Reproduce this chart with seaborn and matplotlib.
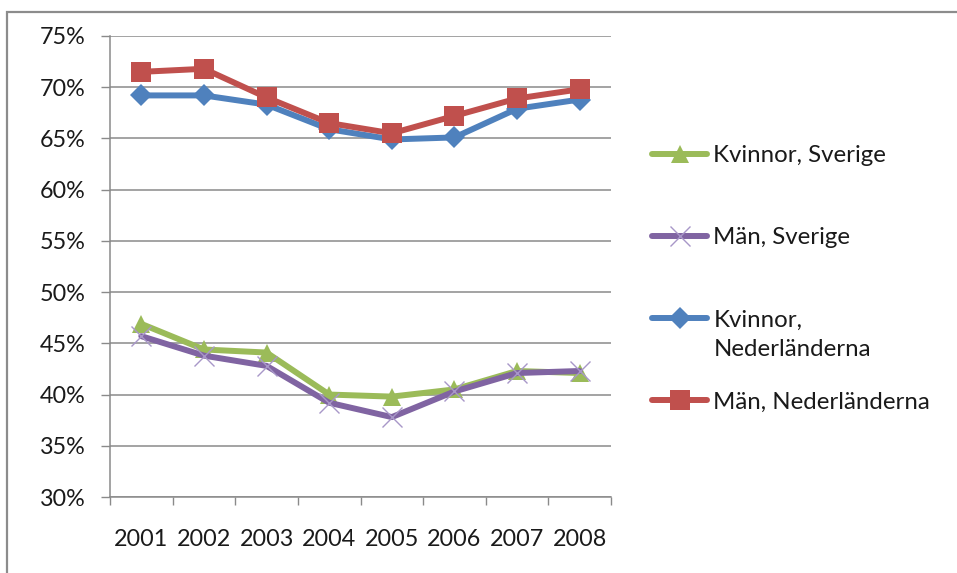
import numpy as np
import pandas as pd
import matplotlib
matplotlib.use("Agg")
import matplotlib.pyplot as plt
from matplotlib.patches import Rectangle
from matplotlib.ticker import FixedLocator, PercentFormatter
import seaborn as sns

# Data (share of population, %)
years = [2001, 2002, 2003, 2004, 2005, 2006, 2007, 2008]
kvinnor_sverige = [46.9, 44.4, 44.1, 40.0, 39.8, 40.5, 42.3, 42.1]
man_sverige = [45.7, 43.8, 42.8, 39.2, 37.8, 40.3, 42.1, 42.3]
kvinnor_nl = [69.2, 69.2, 68.3, 65.9, 64.9, 65.1, 67.9, 68.8]
man_nl = [71.5, 71.8, 69.0, 66.5, 65.5, 67.2, 68.9, 69.8]

series_names = ["Kvinnor, Sverige", "Män, Sverige", "Kvinnor, Nederländerna", "Män, Nederländerna"]
series_values = [kvinnor_sverige, man_sverige, kvinnor_nl, man_nl]

df = pd.DataFrame({"year": years})
for name, vals in zip(series_names, series_values):
    df[name] = vals
long_df = df.melt(id_vars="year", var_name="serie", value_name="value")

# Excel 2007 style
styles = {
    "Kvinnor, Sverige": dict(color="#9BBB59", marker="^", markersize=13, mec="#9BBB59", mew=0),
    "Män, Sverige": dict(color="#8064A2", marker="x", markersize=14, mec="#A897C8", mew=1.0),
    "Kvinnor, Nederländerna": dict(color="#4F81BD", marker="D", markersize=11, mec="#4F81BD", mew=0),
    "Män, Nederländerna": dict(color="#C0504D", marker="s", markersize=14, mec="#C0504D", mew=0),
}

sns.set_theme(style="white")
plt.rcParams["font.family"] = ["Lato", "DejaVu Sans"]

W, H = 957, 573
fig = plt.figure(figsize=(W / 100, H / 100), dpi=100)
ax = fig.add_axes([110 / W, 1 - 497 / H, 501 / W, 461 / H])

for name in series_names:
    st = styles[name]
    sub = long_df[long_df["serie"] == name]
    sns.lineplot(data=sub, x="year", y="value", ax=ax, color=st["color"],
                 linewidth=4.3, marker=st["marker"], markersize=st["markersize"],
                 markeredgecolor=st["mec"], markeredgewidth=st["mew"],
                 label=name if name != "Kvinnor, Nederländerna" else "Kvinnor,",
                 sort=False, errorbar=None)

grid_col = "#8a8a8a"
ax.set_ylim(30, 75)
ax.set_xlim(years[0] - 0.5, years[-1] + 0.5)
ax.set_yticks(np.arange(30, 76, 5))
ax.yaxis.set_major_formatter(PercentFormatter(decimals=0))
ax.set_xticks(years)
ax.set_xticklabels([str(y) for y in years])
ax.xaxis.set_minor_locator(FixedLocator(np.arange(years[0] - 0.5, years[-1] + 1, 1)))
ax.grid(axis="y", color=grid_col, linewidth=1.1)
ax.grid(axis="x", visible=False)
ax.set_axisbelow(True)
for s in ["top", "right"]:
    ax.spines[s].set_visible(False)
for s in ["left", "bottom"]:
    ax.spines[s].set_color(grid_col)
    ax.spines[s].set_linewidth(1.1)
ax.tick_params(axis="y", which="major", left=True, length=6.5, width=1.0, color=grid_col,
               pad=11, labelsize=16.8, labelcolor="#1a1a1a")
ax.tick_params(axis="x", which="major", bottom=True, length=0, pad=23,
               labelsize=16.8, labelcolor="#1a1a1a")
ax.tick_params(axis="x", which="minor", bottom=True, length=6, width=1.0, color=grid_col)
ax.set_xlabel("")
ax.set_ylabel("")

leg_fs = 17.3
leg = ax.legend(loc="upper left", bbox_to_anchor=(652 / W, 1 - 145 / H),
                bbox_transform=fig.transFigure, frameon=False, fontsize=leg_fs,
                handlelength=2.3, handletextpad=0.25, labelspacing=2.55, borderpad=0,
                borderaxespad=0)
for t in leg.get_texts():
    t.set_color("#1a1a1a")

# second line of the wrapped legend label
fig.canvas.draw()
ax.annotate("Nederländerna", xy=(0, 0), xycoords=leg.get_texts()[2],
            xytext=(0, -6), textcoords="offset points", ha="left", va="top",
            fontsize=leg_fs, color="#1a1a1a", annotation_clip=False)

# outer chart frame
fig.add_artist(Rectangle((7 / W, -0.2), 1.2, 1 - 12 / H + 0.2, transform=fig.transFigure,
                         fill=False, edgecolor="#8c8c8c", linewidth=1.6, clip_on=False))

fig.savefig("out.png", dpi=100)
